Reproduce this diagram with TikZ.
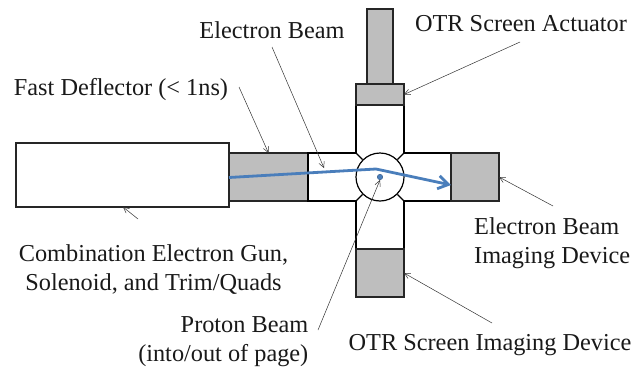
\documentclass[tikz,border=0pt]{standalone}
\usepackage{fontspec}
\setmainfont{Liberation Serif}
\usetikzlibrary{arrows.meta}
\definecolor{partgray}{HTML}{BEBEBE}
\definecolor{beamblue}{HTML}{4A7EBB}
\definecolor{edgedark}{HTML}{262626}

\begin{document}
\begin{tikzpicture}[
        x=1pt, y=-1pt,
        >={Straight Barb[length=2mm,width=2mm]},
        font=\fontsize{24.3}{29}\selectfont,
        part/.style={draw=edgedark, fill=partgray, line width=1.3pt, inner sep=0pt, outer sep=0pt, anchor=north west},
        wall/.style={draw=black, line width=1.6pt},
        callout/.style={->, black!80, line width=0.5pt},
        beam/.style={beamblue, line width=2.8pt},
        lbl/.style={inner sep=0pt, align=center, text=black!90}
    ]
    \useasboundingbox (0,0) rectangle (644,367);

    % Gun and deflector
    \node[part, fill=white, minimum width=213pt, minimum height=64pt] (gun) at (16,143) {};
    \node[part, minimum width=79pt, minimum height=48pt] (deflector) at (229,153) {};

    % Pipes
    \draw[wall, fill=white] (308,153) -- (356,153) -- (356,105) -- (404,105) -- (404,153) -- (451,153)
        -- (451,201) -- (404,201) -- (404,249) -- (356,249) -- (356,201) -- (308,201) -- cycle;

    % Chamber
    \node[draw=black, fill=white, circle, line width=1.2pt, minimum size=48pt, inner sep=0pt] (chamber) at (380,177) {};
    \coordinate (cornerNW) at (356,153);
    \coordinate (cornerNE) at (404,153);
    \coordinate (cornerSW) at (356,201);
    \coordinate (cornerSE) at (404,201);
    \draw[line width=1.2pt] (cornerNW) -- (chamber.135);
    \draw[line width=1.2pt] (cornerNE) -- (chamber.45);
    \draw[line width=1.2pt] (cornerSW) -- (chamber.225);
    \draw[line width=1.2pt] (cornerSE) -- (chamber.315);

    % Actuator and imaging devices
    \node[part, minimum width=26pt, minimum height=75pt] (rod) at (367,9) {};
    \node[part, minimum width=48pt, minimum height=21pt] (flange) at (356,84) {};
    \node[part, minimum width=48pt, minimum height=48pt] (ebdevice) at (451,153) {};
    \node[part, minimum width=48pt, minimum height=48pt] (otrdevice) at (356,249) {};

    % Beams
    \node[circle, fill=beamblue, draw=beamblue!70!black, minimum size=5.5pt, inner sep=0pt] (proton) at (380,177) {};
    \coordinate (bend) at (376,169);
    \draw[beam] (deflector.west |- 0,177.5) -- (bend);
    \draw[beam, -{Straight Barb[length=3.6mm,width=4.6mm]}] (bend) -- (ebdevice.west |- 0,185);

    % Labels
    \node[lbl] (lblebeam) at (272,30) {Electron Beam};
    \node[lbl] (lblactuator) at (521,24) {OTR Screen Actuator};
    \node[lbl] (lblfast) at (121,90) {Fast Deflector (< 1ns)};
    \node[lbl] (lblgun) at (153.5,270) {Combination Electron Gun,\\Solenoid, and Trim/Quads};
    \node[lbl, anchor=west, align=left] (lblebdev) at (474,243) {Electron Beam\\Imaging Device};
    \node[lbl, anchor=east, align=right] (lblproton) at (308.5,342) {Proton Beam\\(into/out of page)};
    \node[lbl] (lblotrdev) at (490,345) {OTR Screen Imaging Device};

    % Callouts
    \coordinate (fromfast) at (239,87);
    \coordinate (fromebeam) at (272,47);
    \coordinate (fromactuator) at (520,42);
    \coordinate (fromgun) at (138,219);
    \coordinate (fromebdev) at (553,206);
    \coordinate (fromotrdev) at (492,323);
    \coordinate (fromproton) at (318,330);
    \coordinate (intopipe) at (324,168);
    \draw[callout] (fromfast) -- (deflector.north);
    \draw[callout] (fromebeam) -- (intopipe);
    \draw[callout] (fromactuator) -- (flange.east);
    \draw[callout] (fromgun) -- (gun.south -| 123,0);
    \draw[callout] (fromebdev) -- (ebdevice.east);
    \draw[callout] (fromotrdev) -- (otrdevice.east);
    \draw[callout] (fromproton) -- (proton.south);
\end{tikzpicture}
\end{document}
